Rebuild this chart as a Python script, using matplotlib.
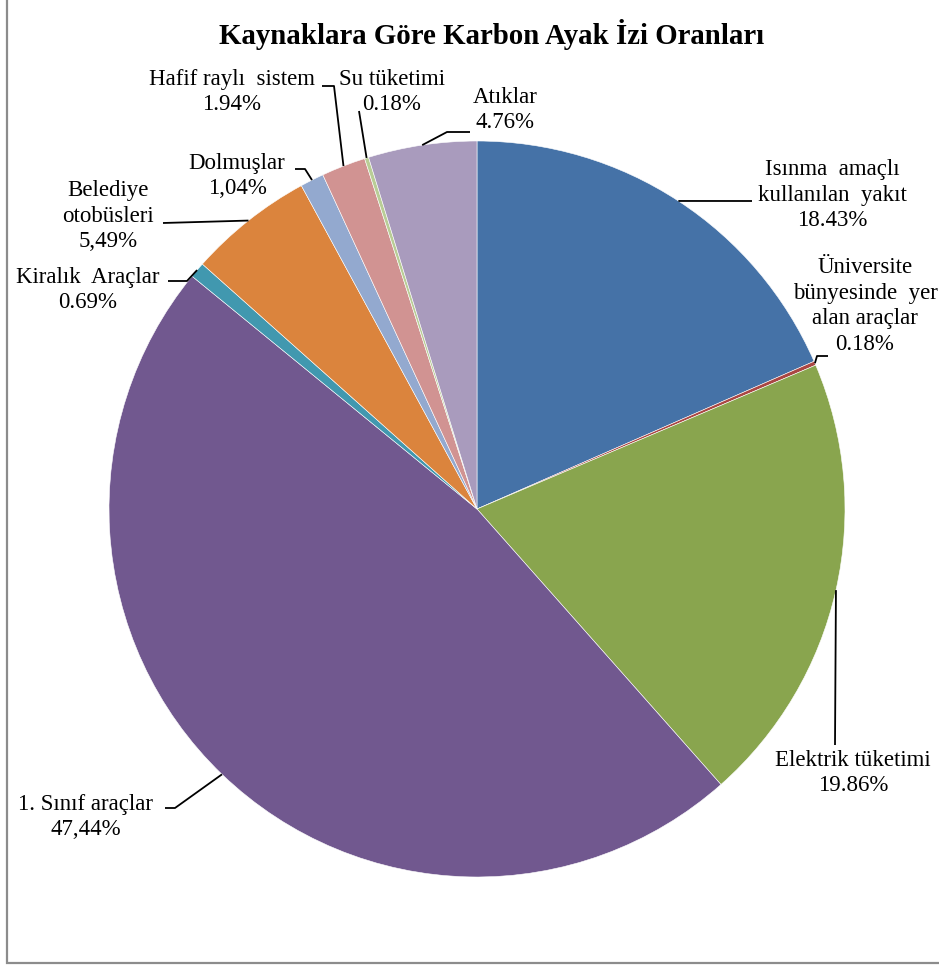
import numpy as np
import matplotlib.pyplot as plt
from matplotlib.patches import Rectangle

plt.rcParams['font.family'] = ['Liberation Serif', 'DejaVu Serif']

# Veriler (saat yönünde, tepeden başlayarak)
labels = ['Isınma  amaçlı\nkullanılan  yakıt', 'Üniversite\nbünyesinde  yer\nalan araçlar',
          'Elektrik tüketimi', '1. Sınıf araçlar', 'Kiralık  Araçlar',
          'Belediye\notobüsleri', 'Dolmuşlar', 'Hafif raylı  sistem',
          'Su tüketimi', 'Atıklar']
values = [18.43, 0.18, 19.86, 47.44, 0.69, 5.49, 1.04, 1.94, 0.18, 4.76]
value_texts = ['18.43%', '0.18%', '19.86%', '47,44%', '0.69%',
               '5,49%', '1,04%', '1.94%', '0.18%', '4.76%']
colors = ['#4572A7', '#AA4643', '#89A54E', '#71588F', '#4198AF',
          '#DB843D', '#93A9CF', '#D19392', '#B9CD96', '#A99BBD']

# etiket yerleşimi: metin merkezi ve kılavuz çizgisinin kırılma noktaları (piksel)
label_pos = [(832, 195), (865, 306), (853, 773), (86, 817), (88, 290),
             (108, 216), (237, 176), (232, 92), (392, 92), (505, 110)]
leader_pts = [[(752, 201)],
              [(817, 356), (828, 356)],
              [(835, 745)],
              [(175, 808), (165, 808)],
              [(187, 281), (168, 281)],
              [(163, 223)],
              [(305, 169), (295, 169)],
              [(334, 86), (322, 86)],
              [(359, 111)],
              [(447, 132), (470, 132)]]

fig = plt.figure(figsize=(9.39, 9.67), dpi=100)
ax = fig.add_axes([0, 0, 1, 1])

cx, cy, r = 477, 509, 368
wedges, _ = ax.pie(values, colors=colors, startangle=-90, counterclock=True,
                   center=(cx, cy), radius=r,
                   wedgeprops=dict(edgecolor='white', linewidth=0.4))
ax.set_xlim(0, 939)
ax.set_ylim(967, 0)
ax.set_aspect('auto')
ax.axis('off')

for i, w in enumerate(wedges):
    mid = np.deg2rad((w.theta1 + w.theta2) / 2)
    ex, ey = cx + r * np.cos(mid), cy + r * np.sin(mid)
    pts = [(ex, ey)] + leader_pts[i]
    ax.plot([p[0] for p in pts], [p[1] for p in pts], color='black', lw=1.3,
            solid_capstyle='butt')
    ax.text(label_pos[i][0], label_pos[i][1], labels[i] + '\n' + value_texts[i],
            ha='center', va='center', fontsize=16.5, linespacing=1.3)

ax.text(492, 35, 'Kaynaklara Göre Karbon Ayak İzi Oranları', ha='center',
        va='center', fontsize=20.8, fontweight='bold')

# çerçeve
ax.add_patch(Rectangle((7, -20), 960, 983, fill=False, edgecolor='#8c8c8c',
                       lw=1.6, clip_on=False))

fig.savefig('out.png', dpi=100)
